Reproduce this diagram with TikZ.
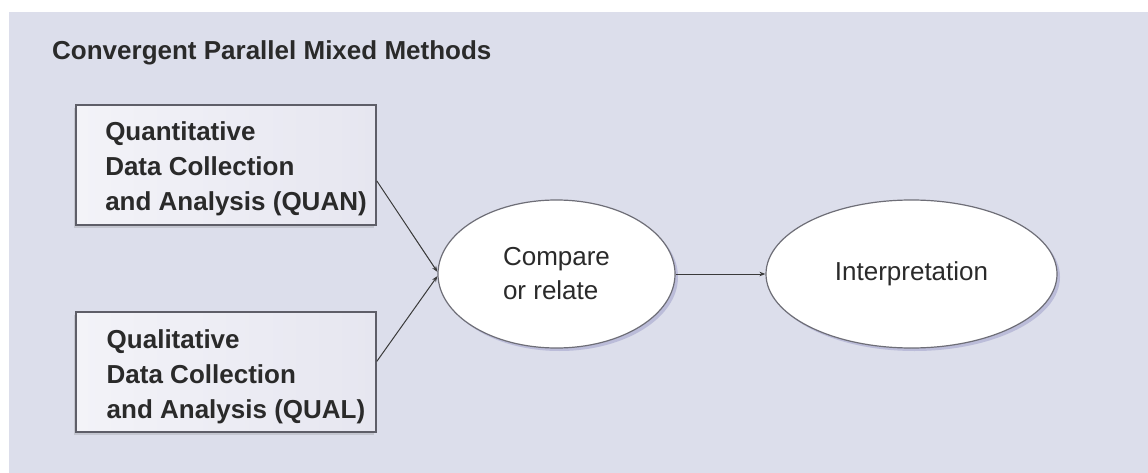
\documentclass[tikz,border=0pt]{standalone}
\usepackage{fontspec}
\setmainfont{Liberation Sans}
\usetikzlibrary{shapes.geometric,shadows,arrows.meta}
\definecolor{panelc}{HTML}{DCDEEB}
\definecolor{boxl}{HTML}{F3F3F8}
\definecolor{boxr}{HTML}{E6E6F0}
\definecolor{edgec}{HTML}{5E5E68}
\definecolor{txtc}{HTML}{2A2A2A}
\definecolor{linec}{HTML}{3A3A3A}
\tikzset{
  bigfont/.style={font=\fontsize{26}{34}\selectfont},
  databox/.style={rectangle, draw=edgec, line width=1.5pt, left color=boxl, right color=boxr,
    minimum width=300pt, minimum height=120pt, inner sep=0pt, text=txtc,
    font=\bfseries\fontsize{26}{35}\selectfont,
    drop shadow={shadow xshift=-2pt, shadow yshift=-3pt, opacity=0.25, fill=gray}},
  oval/.style={ellipse, draw=edgec!90, line width=1.2pt, fill=white, inner sep=0pt,
    minimum height=148pt, text=txtc, align=left, font=\fontsize{26}{34}\selectfont,
    drop shadow={shadow xshift=3pt, shadow yshift=-3pt, opacity=0.25, fill=blue!30!gray}},
  conn/.style={draw=linec, line width=1pt, -{Stealth[length=6pt,width=4.5pt]}},
}
\newcommand{\boxlines}[1]{\raisebox{-4pt}[\height][\depth]{\begin{tabular}{@{\hspace{20pt}}l@{}}#1\end{tabular}}}
\begin{document}
\begin{tikzpicture}[x=1pt,y=-1pt]
  \useasboundingbox (0,0) rectangle (1148,473);
  \fill[white] (0,0) rectangle (1148,473);
  \fill[panelc] (9,12) rectangle (1148,473);
  \node[anchor=base west, text=txtc, font=\bfseries\fontsize{26}{34}\selectfont, inner sep=0pt]
    (title) at (52,60) {Convergent Parallel Mixed Methods};
  \node[databox] (quan) at (226,165) {\boxlines{Quantitative\\Data Collection\\and Analysis (QUAN)}};
  \node[databox] (qual) at (226,372) {\boxlines{Qualitative\\Data Collection\\and Analysis (QUAL)}};
  \node[oval, minimum width=237pt] (cmp) at (556.5,274) {Compare\\or relate};
  \node[oval, minimum width=291pt] (interp) at (911.5,274) {Interpretation};
  \draw[conn] (quan.-6.5) -- (cmp.179);
  \draw[conn] (qual.4.6) -- (cmp.181);
  \draw[conn] (cmp.east) -- (interp.west);
\end{tikzpicture}
\end{document}
